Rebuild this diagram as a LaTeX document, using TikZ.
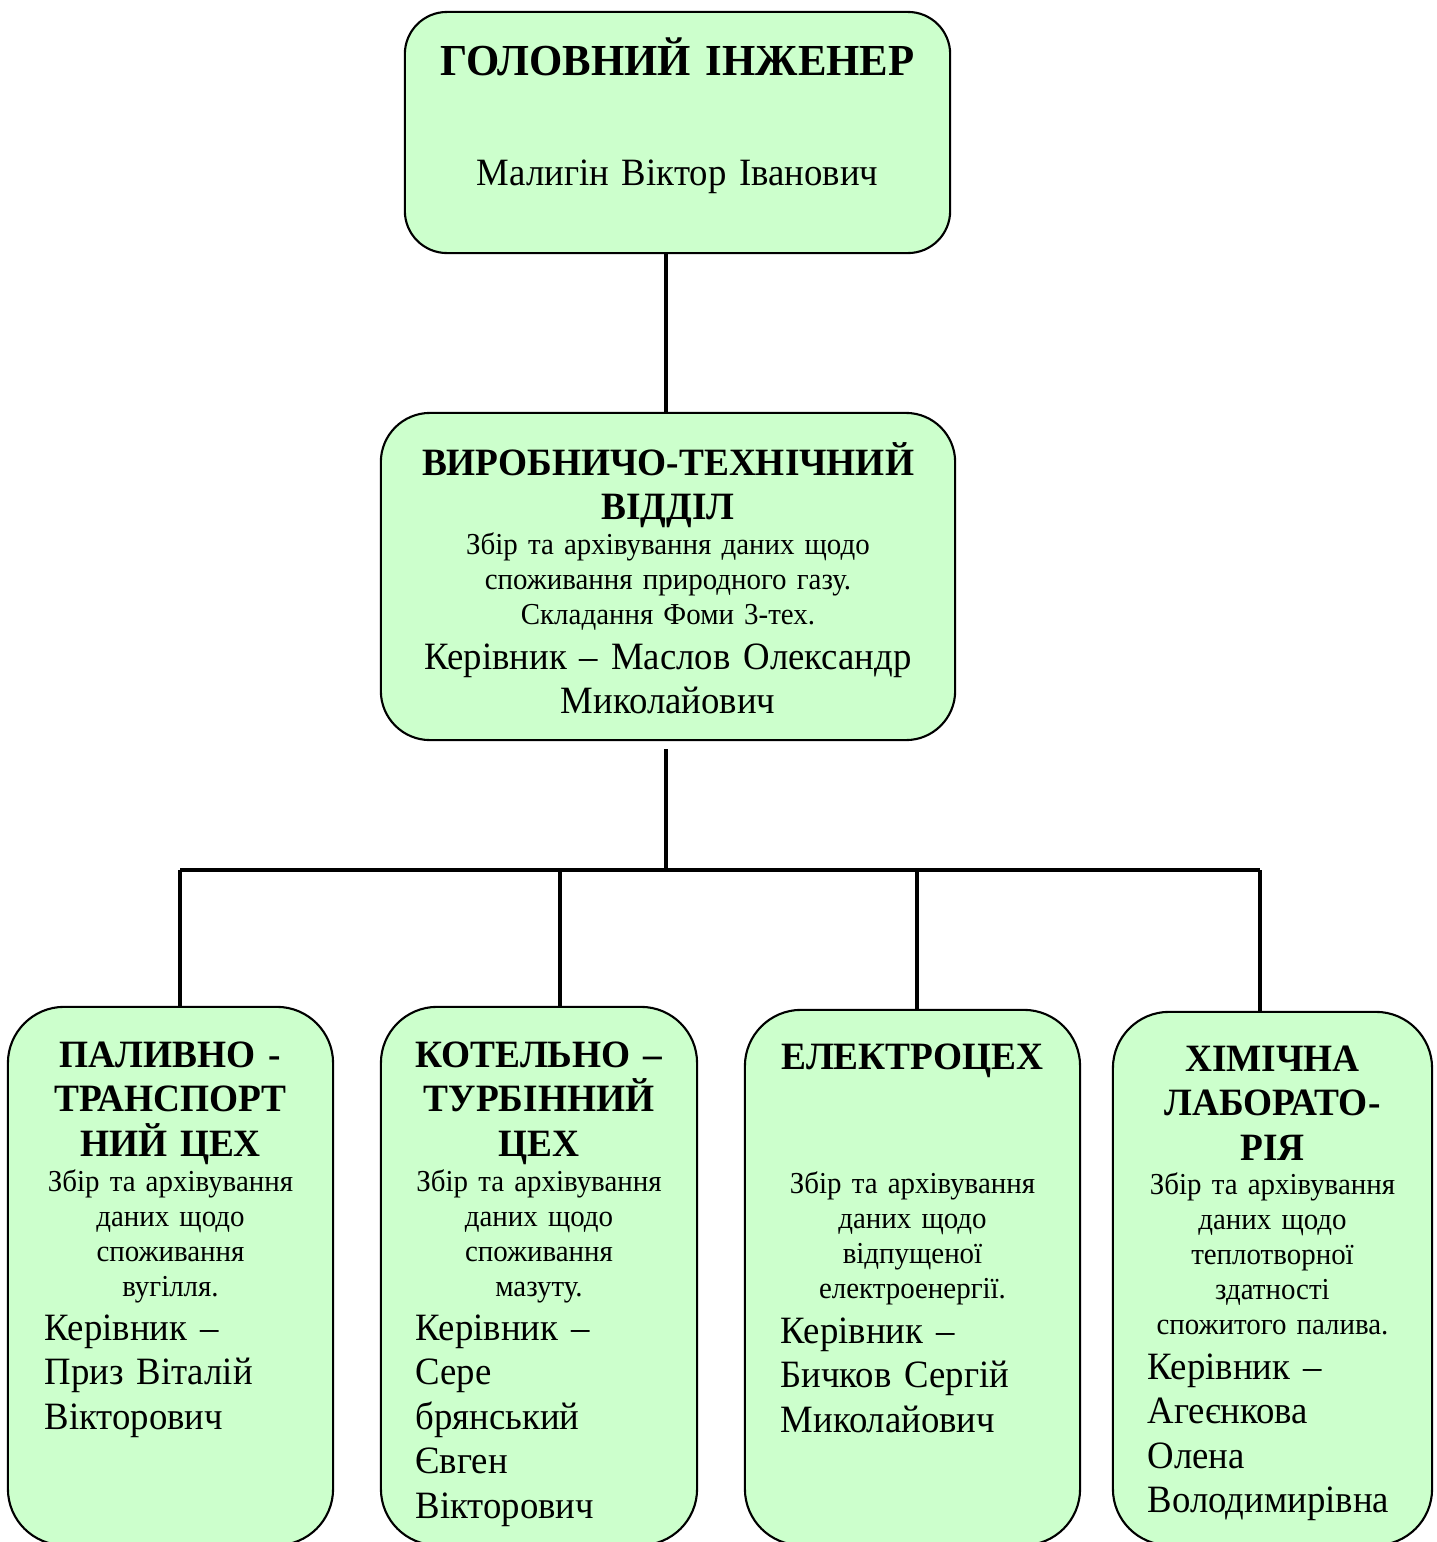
\documentclass[tikz,border=0pt]{standalone}
\usepackage{fontspec}
\setmainfont{Liberation Serif}[FakeStretch=0.95, BoldFeatures={FakeStretch=0.965}]
\definecolor{boxgreen}{HTML}{CCFFCC}
\tikzset{
  unit/.style={draw, line width=0.6pt, fill=boxgreen, rounded corners=16pt, inner sep=0pt},
  headtext/.style={inner sep=0pt, anchor=base, align=center, text width=5.6cm,
    font=\fontsize{11}{12.66}\selectfont\bfseries},
  bodytext/.style={inner sep=0pt, anchor=base, align=center, text width=5.6cm,
    font=\fontsize{8.66}{9.96}\selectfont},
  nametext/.style={inner sep=0pt, anchor=base, align=center, text width=5.6cm,
    font=\fontsize{11}{12.66}\selectfont},
  leadtext/.style={inner sep=0pt, anchor=base west, align=left, text width=3cm,
    font=\fontsize{11}{12.66}\selectfont},
  link/.style={line width=1.2pt}
}
\begin{document}
\begin{tikzpicture}[x=0.01cm, y=-0.01cm]
\useasboundingbox (0,0) rectangle (1437,1542);

\node (chief) [unit, rounded corners=12pt, minimum width=5.45cm, minimum height=2.41cm] at (677.5,132.5) {};
\node (chief-head) [headtext, font=\fontsize{12.6}{14}\selectfont\bfseries] at (677.5,75) {ГОЛОВНИЙ ІНЖЕНЕР};
\node (chief-name) [nametext] at (677.5,185) {Малигін Віктор Іванович};

\node (pto) [unit, rounded corners=14pt, minimum width=5.74cm, minimum height=3.27cm] at (668,576.5) {};
\node (pto-head) [headtext] at (668,475) {ВИРОБНИЧО-ТЕХНІЧНИЙ\\ВІДДІЛ};
\node (pto-body) [bodytext] at (668,554) {Збір та архівування даних щодо\\споживання природного газу.\\Складання Фоми 3-тех.};
\node (pto-name) [nametext] at (668,669) {Керівник – Маслов Олександр\\Миколайович};

\node (fuel) [unit, minimum width=3.25cm, minimum height=5.38cm] at (170.5,1276) {};
\node (fuel-head) [headtext] at (170.5,1067) {ПАЛИВНО -\\ТРАНСПОРТ\\НИЙ ЦЕХ};
\node (fuel-body) [bodytext] at (170.5,1191) {Збір та архівування\\даних щодо\\споживання\\вугілля.};
\node (fuel-name) [leadtext] at (44,1340) {Керівник –\\Приз Віталій\\Вікторович};

\node (boiler) [unit, minimum width=3.16cm, minimum height=5.38cm] at (539,1276) {};
\node (boiler-head) [headtext] at (539,1067) {КОТЕЛЬНО –\\ТУРБІННИЙ\\ЦЕХ};
\node (boiler-body) [bodytext] at (539,1191) {Збір та архівування\\даних щодо\\споживання\\мазуту.};
\node (boiler-name) [leadtext] at (415,1340) {Керівник –\\Сере\\брянський\\Євген\\Вікторович};

\node (elec) [unit, minimum width=3.35cm, minimum height=5.35cm] at (912.5,1277.5) {};
\node (elec-head) [headtext] at (912.5,1069) {ЕЛЕКТРОЦЕХ};
\node (elec-body) [bodytext] at (912.5,1193) {Збір та архівування\\даних щодо\\відпущеної\\електроенергії.};
\node (elec-name) [leadtext] at (780,1343) {Керівник –\\Бичков Сергій\\Миколайович};

\node (chem) [unit, minimum width=3.19cm, minimum height=5.33cm] at (1272.5,1278.5) {};
\node (chem-head) [headtext] at (1272.5,1071) {ХІМІЧНА\\ЛАБОРАТО-\\РІЯ};
\node (chem-body) [bodytext] at (1272.5,1194) {Збір та архівування\\даних щодо\\теплотворної\\здатності\\спожитого палива.};
\node (chem-name) [leadtext] at (1147,1379) {Керівник –\\Агеєнкова\\Олена\\Володимирівна};

\coordinate (bus) at (666,870);
\coordinate (b1) at (180,870);
\coordinate (b2) at (560,870);
\coordinate (b3) at (917,870);
\coordinate (b4) at (1260,870);

\draw [link] (chief.south -| bus) -- (pto.north -| bus);
\draw [link] (pto.south -| bus) ++(0,8) -- (bus);
\draw [link, line width=1.4pt] (b1) -- (b4);
\draw [link] (b1) -- (b1 |- fuel.north);
\draw [link] (b2) -- (b2 |- boiler.north);
\draw [link] (b3) -- (b3 |- elec.north);
\draw [link] (b4) -- (b4 |- chem.north);
\end{tikzpicture}
\end{document}
